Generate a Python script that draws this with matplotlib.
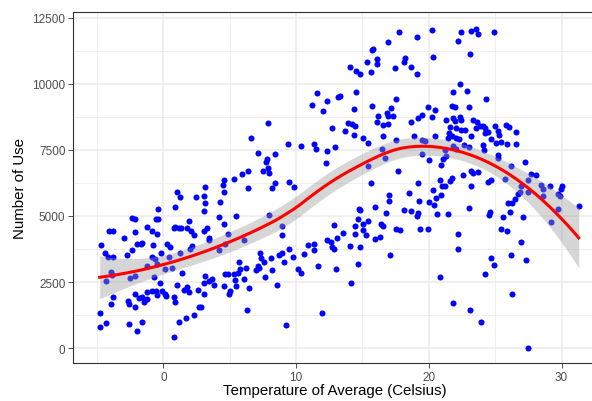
import numpy as np
import matplotlib
matplotlib.use("Agg")
import matplotlib.pyplot as plt
from matplotlib.ticker import MultipleLocator

# temperature (Celsius) / number of use
temp = [11.56, 11.18, 12.35, 12.05, 7.87, 12.73, 6.59, 9.38, 10.38, 11.35,
        11.48, 12.35, 12.93, 7.09, 8.37, 7.77, 7.69, 7.87, 7.47, 7.99,
        12.26, 6.37, 5.92, 5.32, 4.59, 4.46, 3.16, 6.37, 8.37, 9.47,
        9.80, 8.17, 4.59, 4.29, 5.49, 4.19, 4.59, 3.29, 3.46, 3.41,
        4.89, 4.61, 4.16, 6.07, 7.92, 8.97, 8.97, 9.47, 7.27, 7.32,
        7.57, 8.10, 8.72, 8.92, 9.08, 9.77, 10.58, 10.88, 11.33, 11.35,
        12.31, 12.63, 12.73, 12.88, 12.88, 5.66, 6.19, 6.94, 7.12, 7.22,
        8.17, 7.67, 5.79, 5.59, 5.29, 4.86, 4.61, 6.09, 5.36, 5.49,
        3.16, 3.46, 3.66, 3.81, 4.59, 4.98, 4.96, 6.47, 8.55, 10.13,
        10.38, 11.68, 6.29, 11.93, 9.23, 3.16, 1.03, 1.28, 2.48, 3.03,
        0.90, -0.40, 3.03, -2.35, -2.16, -0.60, -0.40, -4.11, -3.81, -1.23,
        -0.85, -0.47, -2.98, -2.11, 0.90, 0.77, 1.15, 1.35, 1.90, 1.78,
        2.11, 2.28, 3.03, -4.68, -2.03, -1.73, -1.60, -0.80, 0.28, 0.47,
        2.16, 2.03, -2.41, -2.78, -4.41, -4.16, -3.78, -0.90, -0.65, -0.15,
        0.40, 1.28, -1.28, -0.47, 0.15, 0.65, 1.41, -3.93, -4.36, -3.86,
        -2.56, -2.11, -0.68, -0.30, 1.03, 1.53, 1.90, 1.78, 2.58, 3.03,
        3.03, -2.11, -1.60, -1.48, -1.23, -0.85, -0.60, -0.47, -0.10, 0.10,
        0.20, -1.86, -1.28, -2.68, -2.61, -2.16, -3.78, -3.98, 0.77, 0.85,
        2.65, 2.86, -4.79, -4.36, -4.81, -2.61, -1.98, -1.60, 1.20, 1.71,
        2.28, 0.77, 20.25, 17.74, 19.12, 16.94, 22.46, 22.20, 15.69, 15.81,
        15.36, 16.11, 16.07, 15.64, 14.06, 14.53, 14.81, 18.20, 18.12, 18.65,
        19.12, 17.44, 20.32, 22.38, 13.18, 13.31, 14.53, 17.52, 21.83, 14.36,
        15.74, 16.19, 16.82, 17.14, 16.94, 17.32, 16.11, 16.52, 16.94, 13.93,
        14.19, 14.44, 13.68, 14.36, 18.65, 19.15, 19.45, 19.95, 20.45, 20.25,
        18.87, 16.56, 17.52, 15.06, 15.44, 16.44, 16.69, 15.44, 17.65, 15.64,
        19.15, 19.45, 19.70, 20.45, 19.45, 20.02, 20.90, 21.08, 21.33, 21.45,
        21.71, 21.95, 22.33, 22.41, 21.33, 21.58, 21.83, 21.95, 22.08, 22.41,
        22.71, 21.50, 21.71, 22.08, 22.26, 21.83, 22.08, 21.20, 22.65, 20.83,
        21.00, 21.58, 21.75, 21.20, 22.56, 23.21, 23.59, 23.71, 24.91, 23.11,
        22.91, 24.31, 23.01, 23.33, 23.66, 23.83, 24.08, 24.26, 23.59, 23.21,
        24.21, 24.46, 24.71, 25.02, 25.21, 25.32, 25.79, 26.04, 26.59, 25.09,
        25.41, 25.92, 26.59, 23.03, 24.08, 24.14, 25.21, 25.21, 27.22, 26.22,
        23.16, 23.33, 23.71, 25.71, 24.46, 24.71, 27.72, 28.10, 27.47, 23.21,
        28.47, 29.10, 30.02, 20.32, 20.95, 20.53, 20.02, 20.40, 17.02, 17.02,
        18.52, 19.23, 15.94, 14.76, 14.81, 16.74, 18.12, 18.65, 19.20, 19.08,
        20.62, 21.41, 14.68, 15.44, 15.06, 14.44, 15.02, 15.26, 14.44, 16.39,
        16.56, 16.32, 15.94, 17.52, 17.84, 19.32, 19.95, 13.06, 13.56, 14.06,
        14.81, 17.07, 22.20, 22.20, 14.64, 13.01, 14.14, 20.83, 21.83, 26.97,
        26.71, 26.47, 25.96, 26.29, 26.84, 27.47, 28.59, 28.59, 29.72, 29.98,
        29.85, 31.30, 29.72, 29.23, 23.01, 24.59, 24.51, 25.59, 26.09, 27.09,
        25.41, 25.92, 26.92, 24.71, 24.91, 26.22, 27.29, 24.21, 26.29, 23.08,
        23.91, 27.47]

count = [9655, 9187, 9338, 8976, 8507, 8345, 7967, 7714, 7654, 7714,
         7541, 7465, 7616, 7390, 7337, 7174, 7035, 6823, 6721, 6635,
         6997, 6695, 6597, 6419, 6355, 6193, 6091, 6068, 6257, 6306,
         6117, 6068, 5917, 5539, 4996, 4958, 4682, 4531, 4180, 4078,
         4331, 3953, 3700, 4078, 5033, 4607, 4278, 3765, 3614, 3425,
         3259, 3425, 3512, 3614, 3274, 3463, 3576, 3889, 3953, 3712,
         4078, 4029, 3840, 3765, 4656, 3274, 3047, 2945, 3108, 3047,
         2945, 2707, 2983, 2858, 2794, 2794, 2821, 2632, 2568, 2330,
         2730, 2541, 2632, 2390, 2330, 2141, 2039, 2266, 2390, 3009,
         2858, 3108, 1435, 1322, 868, 5502, 5917, 5728, 5713, 5751,
         5351, 5275, 5184, 4935, 4871, 4871, 4871, 4429, 4429, 4595,
         4429, 4305, 4154, 4392, 4595, 4558, 4558, 4531, 4807, 4558,
         4429, 4278, 4429, 3901, 3927, 3953, 3991, 3901, 3927, 3825,
         3863, 3765, 3700, 3523, 3587, 3463, 3447, 3447, 3361, 3614,
         3447, 3614, 3108, 3172, 2983, 3047, 2858, 2896, 2541, 2768,
         2670, 2730, 2692, 2481, 2379, 2190, 2103, 2292, 2190, 2454,
         2039, 2039, 1914, 1726, 2103, 2141, 2164, 2013, 2164, 2039,
         1975, 1888, 1850, 1786, 1661, 1537, 1914, 1661, 1937, 1726,
         1559, 1559, 1310, 933, 804, 906, 653, 970, 993, 1133,
         1246, 404, 12045, 11959, 11770, 11592, 11970, 11641, 11290, 11317,
         10826, 10939, 10773, 10460, 10660, 10497, 10384, 11000, 10826, 10660,
         10384, 10599, 11015, 10006, 9504, 9527, 9704, 9429, 9693, 9051,
         9149, 8787, 8900, 9074, 8798, 8798, 8545, 8458, 8496, 8522,
         8485, 8394, 8205, 8054, 8545, 8696, 8836, 9127, 9025, 8749,
         8043, 8016, 7866, 7941, 7767, 7552, 7201, 6884, 6710, 6257,
         6257, 7865, 7854, 8043, 7363, 7137, 6948, 7163, 7261, 7956,
         9149, 9112, 8734, 8647, 8621, 8371, 8711, 8583, 8334, 8243,
         8243, 8145, 8043, 7956, 7918, 7639, 7541, 7514, 7703, 6355,
         6155, 6317, 6446, 6128, 6544, 12019, 12072, 11894, 11970, 11139,
         9753, 9429, 9112, 8621, 8545, 8394, 8420, 8334, 8334, 8043,
         8145, 8168, 7918, 8394, 8232, 8081, 8458, 8371, 8183, 7767,
         7805, 7729, 7729, 7601, 7703, 7514, 7299, 7186, 7050, 6884,
         6695, 6635, 6657, 6408, 6295, 6381, 6608, 6570, 6381, 6128,
         6193, 6128, 6128, 5977, 5789, 5690, 5524, 5400, 5777, 5562,
         5853, 5562, 5336, 5275, 5211, 5098, 5222, 5184, 5124, 4996,
         5086, 5086, 4871, 4807, 4709, 4618, 4467, 4278, 4331, 4709,
         4618, 4218, 4116, 4520, 4456, 4520, 4493, 4180, 4369, 3863,
         3840, 3523, 4331, 3750, 3172, 2983, 2481, 2707, 1688, 6128,
         5815, 5626, 5502, 5502, 5917, 5917, 6004, 5751, 5815, 6004,
         5751, 5373, 5249, 4784, 5286, 5162, 5033, 4973, 5162, 4958,
         4493, 4418, 4014, 3410, 3145, 3512, 3323, 2794, 2028, 1446,
         970, 0]

x_ticks = [0, 10, 20, 30]
y_ticks = [0, 2500, 5000, 7500, 10000, 12500]


def loess(x, y, xs, span=0.75):
    # local quadratic fit with tricube weights (like R's loess)
    n = len(x)
    q = int(np.floor(n * span))

    def row(x0):
        d = np.abs(x - x0)
        h = np.sort(d)[q - 1]
        w = (1 - np.clip(d / h, 0, 1) ** 3) ** 3
        X = np.column_stack([np.ones(n), x - x0, (x - x0) ** 2])
        XtW = X.T * w
        return np.linalg.solve(XtW @ X, XtW)[0]

    L = np.array([row(v) for v in x])
    G = np.array([row(v) for v in xs])
    R = np.eye(n) - L
    res = R @ y
    d1 = np.trace(R.T @ R)
    sigma = np.sqrt(np.sum(res ** 2) / d1)
    return G @ y, sigma * np.sqrt(np.sum(G ** 2, axis=1))


x = np.array(temp)
y = np.array(count, dtype=float)
xs = np.linspace(x.min(), x.max(), 80)
fit, se = loess(x, y, xs)

plt.rcParams['font.family'] = ['Liberation Sans', 'DejaVu Sans']

fig = plt.figure(figsize=(5.92, 4.02), dpi=100)
ax = fig.add_axes([73 / 592, 38 / 402, 523 / 592, 351 / 402])

ax.scatter(x, y, s=19, color='blue', linewidths=0, zorder=2)
ax.fill_between(xs, fit - 1.966 * se, fit + 1.966 * se, color='#999999', alpha=0.4, lw=0, zorder=3)
ax.plot(xs, fit, color='red', lw=2.2, zorder=4)

ax.set_xlim(-6.82, 32.6)
ax.set_ylim(-568, 12727)
ax.set_xticks(x_ticks)
ax.set_yticks(y_ticks)
ax.xaxis.set_minor_locator(MultipleLocator(5))
ax.yaxis.set_minor_locator(MultipleLocator(1250))
ax.set_axisbelow(True)
ax.grid(which='major', color='#EBEBEB', lw=1.1)
ax.grid(which='minor', color='#EBEBEB', lw=0.55)
ax.tick_params(which='major', length=3.5, width=0.6, color='#333333', labelcolor='#4D4D4D', labelsize=8.5, pad=2)
ax.tick_params(which='minor', length=0)
for sp in ax.spines.values():
    sp.set_color('#333333')
    sp.set_linewidth(0.8)

ax.set_xlabel('Temperature of Average (Celsius)', fontsize=10.8, labelpad=0.5)
ax.set_ylabel('Number of Use', fontsize=10.8, labelpad=4)

fig.savefig('out.png', dpi=100)
